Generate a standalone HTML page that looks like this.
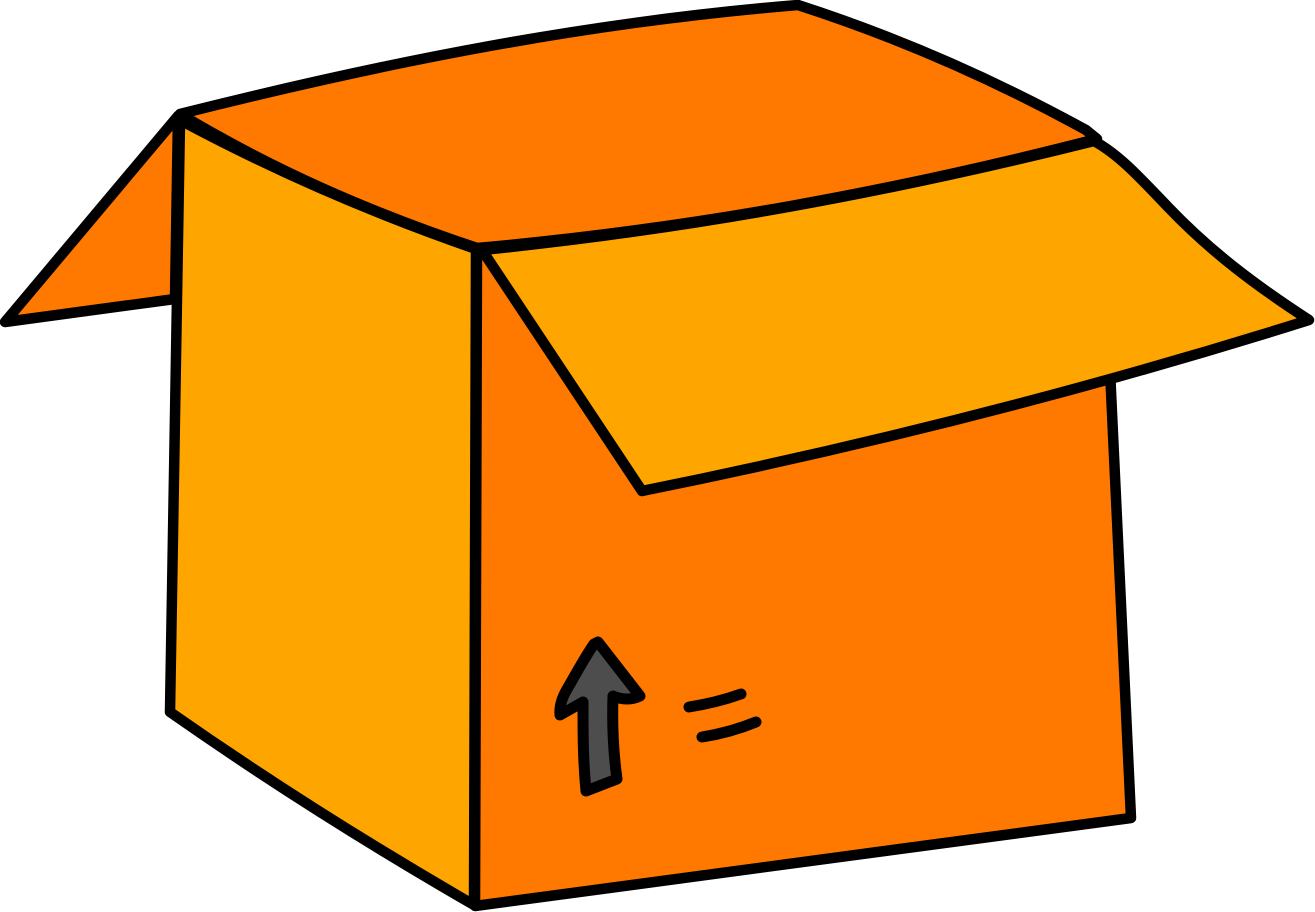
<!DOCTYPE html>
<html>
<head>
<meta charset="utf-8">
<title>Open cardboard box</title>
<style>
html,body{margin:0;padding:0;background:#fff;width:1315px;height:912px;overflow:hidden}
svg{display:block}
</style>
</head>
<body>
<svg width="1315" height="912" viewBox="0 0 1315 912" stroke="#000" stroke-width="10.5" stroke-linejoin="round" stroke-linecap="round">
  <path fill="#ff7800" d="M178 116 L5 322 L175 299 Z"/>
  <path fill="#ff7800" d="M180 114 C390 61 590 22 798 5 C900 38 995 80 1086 130 L1097 139 C890 192 690 229 477 248 C372 213 275 171 180 114 Z"/>
  <path fill="#ff7800" d="M477 248 L1110 370 L1131 818 L475 906 Z"/>
  <path fill="#ffa500" d="M180 120 C275 171 372 213 476 249 L474 905 C370 845 270 782 170 712 Z"/>
  <path fill="#ffa500" d="M482 250 C690 229 890 192 1094 141 C1120 155 1143 181 1168 207 C1210 251 1255 285 1309 320 C1090 389 870 445 642 491 Z"/>
  <path fill="#4d4d4d" stroke-width="11" d="M598 642 L640 696 C632 700 622 700 613 696 C612 725 613 750 617 779 L586 791 C583 760 583 735 583 702 L560 715 C559 703 564 694 570 684 C579 668 587 654 594 644 Z"/>
  <path fill="none" stroke-width="11" d="M689 707 C708 704 724 700 741 694"/>
  <path fill="none" stroke-width="11" d="M702 737 C721 734 739 729 756 722"/>
</svg>
</body>
</html>
